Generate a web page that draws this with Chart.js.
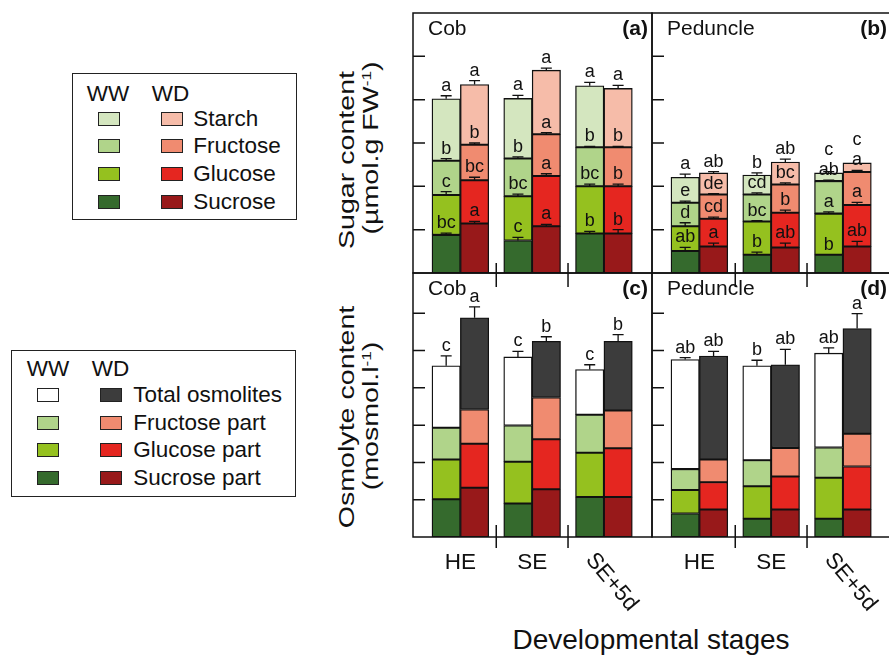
<!DOCTYPE html>
<html>
<head>
<meta charset="utf-8">
<script src="https://cdn.jsdelivr.net/npm/chart.js@4.4.1/dist/chart.umd.min.js"></script>
<style>
  body { margin: 0; width: 889px; height: 658px; overflow: hidden; background: #fff; position: relative;
         font-family: 'Liberation Sans', Arial, sans-serif; color: #111; }
  canvas { position: absolute; }
  .t { position: absolute; white-space: nowrap; line-height: 1; }
  .box { position: absolute; border: 1.5px solid #222; box-sizing: border-box; }
  .sw { position: absolute; width: 22px; height: 14px; border: 1.5px solid #222; box-sizing: border-box; }
  .rot { position: absolute; white-space: nowrap; line-height: 1; font-size: 28.6px;
         transform: translate(-50%, -50%) rotate(-90deg) scaleY(0.75); }
  .rot sup { font-size: 0.6em; }
</style>
</head>
<body>
<canvas id="cA" width="269" height="290" style="left:398px;top:-2px"></canvas>
<canvas id="cB" width="269" height="290" style="left:637px;top:-2px"></canvas>
<canvas id="cC" width="269" height="364" style="left:398px;top:258px"></canvas>
<canvas id="cD" width="269" height="364" style="left:637px;top:258px"></canvas>

<div class="rot" style="left:347px;top:160px">Sugar content</div>
<div class="rot" style="left:371px;top:148px">(µmol.g FW<sup>-1</sup>)</div>
<div class="rot" style="left:347px;top:417px">Osmolyte content</div>
<div class="rot" style="left:371px;top:416px">(mosmol.l<sup>-1</sup>)</div>

<div class="box" style="left:72px;top:73px;width:225px;height:147px"></div>
<div class="box" style="left:11px;top:350px;width:285px;height:147px"></div>

<script>
const stages = ['HE', 'SE', 'SE+5d'];

// legends
const sugarNames = ['Starch', 'Fructose', 'Glucose', 'Sucrose'];
const osmoNames = ['Total osmolites', 'Fructose part', 'Glucose part', 'Sucrose part'];

// colours
const wwCol = { sta: '#d4e6bf', fru: '#b0d48a', glu: '#95c11f', suc: '#356a2d', tot: '#ffffff' };
const wdCol = { sta: '#f6bca9', fru: '#f08b70', glu: '#e52620', suc: '#98191a', tot: '#3c3c3c' };

//! (a) Cob - sugars (segment amounts)
const cobSucWW = [0.88, 0.75, 0.91];
const cobGluWW = [0.92, 1.02, 1.09];
const cobFruWW = [0.79, 0.87, 0.90];
const cobStaWW = [1.43, 1.39, 1.42];
const cobSucWD = [1.14, 1.08, 0.91];
const cobGluWD = [1.00, 1.16, 1.09];
const cobFruWD = [0.82, 0.96, 0.90];
const cobStaWD = [1.39, 1.48, 1.36];
const cobErrWW = { suc: [0.04, 0.07, 0.05], glu: [0.08, 0.05, 0.05], fru: [0.05, 0.04, 0.02], sta: [0.07, 0.07, 0.08] };
const cobErrWD = { suc: [0.05, 0.04, 0.09], glu: [0.07, 0.05, 0.05], fru: [0.04, 0.04, 0.02], sta: [0.09, 0.05, 0.07] };
const cobLetWW = { suc: ['bc', 'c', 'b'], glu: ['c', 'bc', 'bc'], fru: ['b', 'b', 'b'], sta: ['a', 'a', 'a'] };
const cobLetWD = { suc: ['a', 'a', 'b'], glu: ['bc', 'a', 'b'], fru: ['b', 'a', 'b'], sta: ['a', 'a', 'a'] };

//! (b) Peduncle - sugars
const pedSucWW = [0.51, 0.42, 0.42];
const pedGluWW = [0.57, 0.77, 0.95];
const pedFruWW = [0.54, 0.62, 0.75];
const pedStaWW = [0.59, 0.45, 0.19];
const pedSucWD = [0.61, 0.59, 0.61];
const pedGluWD = [0.64, 0.80, 0.96];
const pedFruWD = [0.56, 0.65, 0.76];
const pedStaWD = [0.50, 0.52, 0.21];
const pedErrWW = { suc: [0.08, 0.06, 0], glu: [0.08, 0.02, 0.04], fru: [0.04, 0.04, 0.02], sta: [0.07, 0.05, 0.03] };
const pedErrWD = { suc: [0.08, 0.10, 0.12], glu: [0.04, 0.06, 0.06], fru: [0.02, 0.04, 0.04], sta: [0.03, 0.07, 0] };
const pedLetWW = { suc: ['ab', 'b', 'b'], glu: ['d', 'bc', 'a'], fru: ['e', 'cd', 'ab'], sta: ['a', 'b', 'c'] };
const pedLetWD = { suc: ['a', 'ab', 'ab'], glu: ['cd', 'b', 'a'], fru: ['de', 'bc', 'a'], sta: ['ab', 'ab', 'c'] };

//! (c) Cob - osmolytes
const cobOsmSucWW = [1.01, 0.90, 1.07];
const cobOsmGluWW = [1.07, 1.12, 1.19];
const cobOsmFruWW = [0.85, 0.97, 1.02];
const cobOsmTotWW = [4.59, 4.83, 4.49];
const cobOsmSucWD = [1.32, 1.28, 1.07];
const cobOsmGluWD = [1.18, 1.34, 1.31];
const cobOsmFruWD = [0.92, 1.12, 1.01];
const cobOsmTotWD = [5.88, 5.25, 5.25];
const cobOsmErrWW = [0.27, 0.15, 0.13];
const cobOsmErrWD = [0.29, 0.12, 0.18];
const cobOsmLetWW = ['c', 'c', 'c'];
const cobOsmLetWD = ['a', 'b', 'b'];

//! (d) Peduncle - osmolytes
const pedOsmSucWW = [0.63, 0.49, 0.49];
const pedOsmGluWW = [0.63, 0.87, 1.10];
const pedOsmFruWW = [0.56, 0.70, 0.81];
const pedOsmTotWW = [4.76, 4.59, 4.93];
const pedOsmSucWD = [0.74, 0.74, 0.74];
const pedOsmGluWD = [0.73, 0.88, 1.15];
const pedOsmFruWD = [0.61, 0.77, 0.88];
const pedOsmTotWD = [4.85, 4.62, 5.59];
const pedOsmErrWW = [0.05, 0.15, 0.14];
const pedOsmErrWD = [0.13, 0.41, 0.40];
const pedOsmLetWW = ['ab', 'b', 'ab'];
const pedOsmLetWD = ['ab', 'ab', 'a'];

const FONT = "'Liberation Sans', Arial, sans-serif";

// plugin: error bars, letters, frame, ticks, panel names, stage labels
const extras = {
  id: 'extras',
  afterDatasetsDraw(chart, args, opts) {
    const ctx = chart.ctx;
    const ys = chart.scales.y;
    const unit = ys.getPixelForValue(0) - ys.getPixelForValue(1);
    const lastBase = {};
    ctx.save();
    ctx.strokeStyle = '#111';
    ctx.fillStyle = '#111';
    ctx.lineWidth = 1.3;
    ctx.font = '18px ' + FONT;
    ctx.textAlign = 'center';
    ctx.textBaseline = 'alphabetic';
    chart.data.datasets.forEach((ds, di) => {
      const meta = chart.getDatasetMeta(di);
      meta.data.forEach((el, i) => {
        let cap = el.y;
        if (ds.err && ds.err[i] > 0) {
          cap = el.y - ds.err[i] * unit;
          ctx.beginPath();
          ctx.moveTo(el.x, el.y);
          ctx.lineTo(el.x, cap);
          ctx.moveTo(el.x - 5.5, cap);
          ctx.lineTo(el.x + 5.5, cap);
          ctx.stroke();
        }
        if (ds.letters) {
          const key = ds.stack + i;
          let base = cap - 5;
          if (lastBase[key] !== undefined) base = Math.min(base, lastBase[key] - 20);
          lastBase[key] = base;
          ctx.fillText(ds.letters[i], el.x, base);
        }
      });
    });
    ctx.restore();
  },
  afterDraw(chart, args, opts) {
    const ctx = chart.ctx;
    const a = chart.chartArea;
    const xs = chart.scales.x, ys = chart.scales.y;
    ctx.save();
    ctx.strokeStyle = '#111';
    ctx.fillStyle = '#111';
    ctx.lineWidth = 1.5;
    ctx.strokeRect(a.left, a.top, a.right - a.left, a.bottom - a.top);
    ctx.beginPath();
    for (let v = 1; v < ys.max - 0.3; v++) {
      const py = ys.getPixelForValue(v);
      ctx.moveTo(a.left, py);
      ctx.lineTo(a.left + 12, py);
    }
    [0.5, 1.5].forEach(v => {
      const px = xs.getPixelForValue(v);
      ctx.moveTo(px, a.bottom - opts.sepUp);
      ctx.lineTo(px, a.bottom + opts.sepDown);
    });
    ctx.stroke();

    ctx.font = '21px ' + FONT;
    ctx.textAlign = 'left';
    ctx.fillText(opts.name, a.left + 15, a.top + 22);
    ctx.font = 'bold 21px ' + FONT;
    ctx.textAlign = 'right';
    ctx.fillText(opts.tag, a.right - 4, a.top + 22);

    if (opts.stageLabels) {
      ctx.font = '22.5px ' + FONT;
      stages.forEach((s, i) => {
        const px = xs.getPixelForValue(i);
        if (i < 2) {
          ctx.textAlign = 'center';
          ctx.fillText(s, px, a.bottom + 32);
        } else {
          ctx.save();
          ctx.translate(px - 19, a.bottom + 23);
          ctx.rotate(50 * Math.PI / 180);
          ctx.textAlign = 'left';
          ctx.fillText(s, 0, 0);
          ctx.restore();
        }
      });
    }
    ctx.restore();
  }
};

function pts(arr) {
  return arr.map((v, i) => ({ x: i, y: v }));
}

function seg(label, stack, data, color, err, letters) {
  return { label: label, stack: stack, data: pts(data), backgroundColor: color, err: err, letters: letters };
}

function panel(id, name, tag, ymax, datasets, bottomRow) {
  return new Chart(document.getElementById(id), {
    type: 'bar',
    data: { datasets: datasets },
    options: {
      responsive: false,
      animation: false,
      layout: { padding: { left: 15, right: 15, top: 15, bottom: bottomRow ? 85 : 15 } },
      datasets: { bar: { barThickness: 28.4, borderWidth: 1.35, borderColor: '#111', borderSkipped: false } },
      plugins: {
        legend: { display: false },
        tooltip: { enabled: false },
        extras: { name: name, tag: tag, stageLabels: bottomRow, sepUp: bottomRow ? 12 : 10, sepDown: bottomRow ? 11 : 14 }
      },
      scales: {
        x: { type: 'linear', min: -0.66, max: 2.67, offset: false, grid: { offset: false }, stacked: true, display: false },
        y: { min: 0, max: ymax, stacked: true, display: false }
      }
    },
    plugins: [extras]
  });
}

function rest(tot, s, g, f) {
  return tot.map((t, i) => +(t - s[i] - g[i] - f[i]).toFixed(2));
}

panel('cA', 'Cob', '(a)', 6, [
  seg('Sucrose', 'WW', cobSucWW, wwCol.suc, cobErrWW.suc, cobLetWW.suc),
  seg('Glucose', 'WW', cobGluWW, wwCol.glu, cobErrWW.glu, cobLetWW.glu),
  seg('Fructose', 'WW', cobFruWW, wwCol.fru, cobErrWW.fru, cobLetWW.fru),
  seg('Starch', 'WW', cobStaWW, wwCol.sta, cobErrWW.sta, cobLetWW.sta),
  seg('Sucrose', 'WD', cobSucWD, wdCol.suc, cobErrWD.suc, cobLetWD.suc),
  seg('Glucose', 'WD', cobGluWD, wdCol.glu, cobErrWD.glu, cobLetWD.glu),
  seg('Fructose', 'WD', cobFruWD, wdCol.fru, cobErrWD.fru, cobLetWD.fru),
  seg('Starch', 'WD', cobStaWD, wdCol.sta, cobErrWD.sta, cobLetWD.sta)
], false);

panel('cB', 'Peduncle', '(b)', 6, [
  seg('Sucrose', 'WW', pedSucWW, wwCol.suc, pedErrWW.suc, pedLetWW.suc),
  seg('Glucose', 'WW', pedGluWW, wwCol.glu, pedErrWW.glu, pedLetWW.glu),
  seg('Fructose', 'WW', pedFruWW, wwCol.fru, pedErrWW.fru, pedLetWW.fru),
  seg('Starch', 'WW', pedStaWW, wwCol.sta, pedErrWW.sta, pedLetWW.sta),
  seg('Sucrose', 'WD', pedSucWD, wdCol.suc, pedErrWD.suc, pedLetWD.suc),
  seg('Glucose', 'WD', pedGluWD, wdCol.glu, pedErrWD.glu, pedLetWD.glu),
  seg('Fructose', 'WD', pedFruWD, wdCol.fru, pedErrWD.fru, pedLetWD.fru),
  seg('Starch', 'WD', pedStaWD, wdCol.sta, pedErrWD.sta, pedLetWD.sta)
], false);

panel('cC', 'Cob', '(c)', 7.08, [
  seg('Sucrose part', 'WW', cobOsmSucWW, wwCol.suc),
  seg('Glucose part', 'WW', cobOsmGluWW, wwCol.glu),
  seg('Fructose part', 'WW', cobOsmFruWW, wwCol.fru),
  seg('Total osmolites', 'WW', rest(cobOsmTotWW, cobOsmSucWW, cobOsmGluWW, cobOsmFruWW), wwCol.tot, cobOsmErrWW, cobOsmLetWW),
  seg('Sucrose part', 'WD', cobOsmSucWD, wdCol.suc),
  seg('Glucose part', 'WD', cobOsmGluWD, wdCol.glu),
  seg('Fructose part', 'WD', cobOsmFruWD, wdCol.fru),
  seg('Total osmolites', 'WD', rest(cobOsmTotWD, cobOsmSucWD, cobOsmGluWD, cobOsmFruWD), wdCol.tot, cobOsmErrWD, cobOsmLetWD)
], true);

panel('cD', 'Peduncle', '(d)', 7.08, [
  seg('Sucrose part', 'WW', pedOsmSucWW, wwCol.suc),
  seg('Glucose part', 'WW', pedOsmGluWW, wwCol.glu),
  seg('Fructose part', 'WW', pedOsmFruWW, wwCol.fru),
  seg('Total osmolites', 'WW', rest(pedOsmTotWW, pedOsmSucWW, pedOsmGluWW, pedOsmFruWW), wwCol.tot, pedOsmErrWW, pedOsmLetWW),
  seg('Sucrose part', 'WD', pedOsmSucWD, wdCol.suc),
  seg('Glucose part', 'WD', pedOsmGluWD, wdCol.glu),
  seg('Fructose part', 'WD', pedOsmFruWD, wdCol.fru),
  seg('Total osmolites', 'WD', rest(pedOsmTotWD, pedOsmSucWD, pedOsmGluWD, pedOsmFruWD), wdCol.tot, pedOsmErrWD, pedOsmLetWD)
], true);

// html text helpers
function txt(str, x, base, size, css) {
  const d = document.createElement('div');
  d.className = 't';
  d.textContent = str;
  d.style.fontSize = size + 'px';
  d.style.left = x + 'px';
  d.style.top = (base - 0.8465 * size) + 'px';
  if (css) d.style.cssText += css;
  document.body.appendChild(d);
  return d;
}

function swatch(x, y, color) {
  const d = document.createElement('div');
  d.className = 'sw';
  d.style.left = x + 'px';
  d.style.top = y + 'px';
  d.style.background = color;
  document.body.appendChild(d);
}

// legend (sugars)
txt('WW', 86.7, 101.7, 22.5);
txt('WD', 151.7, 101.7, 22.5);
const sugarKeys = ['sta', 'fru', 'glu', 'suc'];
sugarNames.forEach((n, i) => {
  const base = 126.7 + i * 27.7;
  swatch(97.7, base - 15, wwCol[sugarKeys[i]]);
  swatch(161, base - 15, wdCol[sugarKeys[i]]);
  txt(n, 193.3, base, 22.5);
});

// legend (osmolytes)
txt('WW', 26.7, 377.3, 22.5);
txt('WD', 91.7, 377.3, 22.5);
const osmoKeys = ['tot', 'fru', 'glu', 'suc'];
osmoNames.forEach((n, i) => {
  const base = 403.3 + i * 27.5;
  swatch(36.7, base - 15, wwCol[osmoKeys[i]]);
  swatch(100, base - 15, wdCol[osmoKeys[i]]);
  txt(n, 133.3, base, 22.5);
});

const xt = txt('Developmental stages', 651, 650, 28);
xt.style.transform = 'translateX(-50%)';
</script>
</body>
</html>
